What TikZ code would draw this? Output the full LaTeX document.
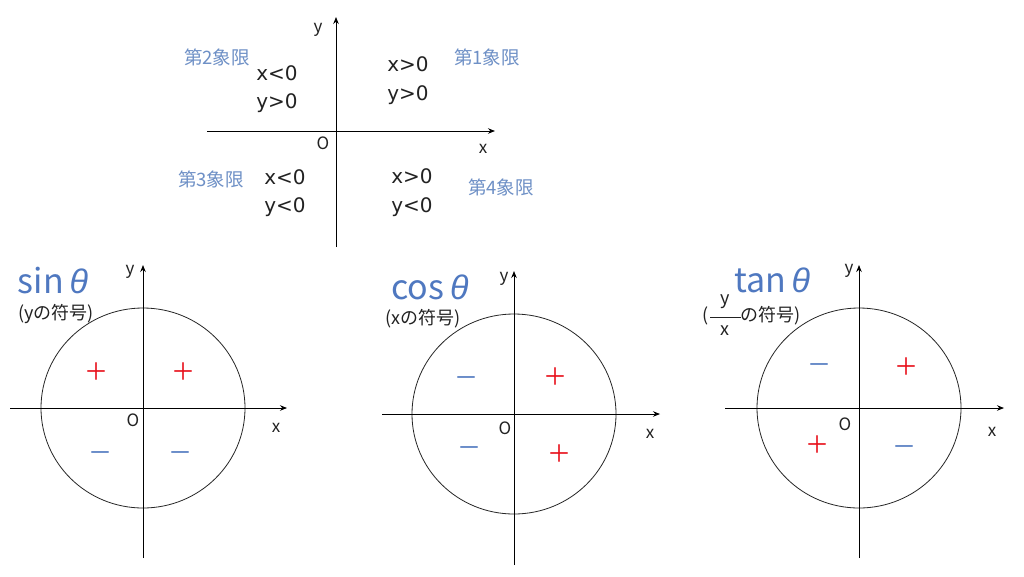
\documentclass[tikz,border=0pt]{standalone}
\usepackage{fontspec}
\setmainfont{Noto Sans CJK JP}
\newfontfamily\thetafont{Liberation Sans}
\newfontfamily\condfont{DejaVu Sans}
\usetikzlibrary{arrows.meta}
\definecolor{qblue}{HTML}{6E90C6}
\definecolor{tblue}{HTML}{4F78C0}
\definecolor{pred}{HTML}{E8101A}
\definecolor{txt}{HTML}{222222}
\tikzset{
 axis/.style={draw=black, line width=0.9pt, -{Stealth[length=7pt,width=5.5pt]}},
 ring/.style={draw=black!85, line width=0.8pt},
 lbl/.style={font=\fontsize{17}{17}\selectfont, text=txt, inner sep=0pt},
 cond/.style={font=\condfont\fontsize{20}{24}\selectfont, text=txt, inner sep=0pt},
 quad/.style={font=\fontsize{18.5}{18}\selectfont, text=qblue, inner sep=0pt},
 ttl/.style={font=\fontsize{34}{34}\selectfont, text=tblue, inner sep=0pt},
 sub/.style={font=\fontsize{18}{18}\selectfont, text=txt, inner sep=0pt},
 fracbar/.style={draw=txt, line width=0.8pt},
 plussign/.style={font=\fontsize{24}{24}\selectfont, text=pred, inner sep=0pt},
 minussign/.style={font=\fontsize{24}{24}\selectfont, text=tblue, inner sep=0pt},
}
\newcommand{\thsym}{{\thetafont\itshape θ}}
\begin{document}
\begin{tikzpicture}[x=1pt,y=-1pt]
\useasboundingbox[fill=white] (0,0) rectangle (1024,576);
% ---------- top quadrant diagram ----------
\coordinate (tyb) at (336,247);
\coordinate (tyt) at (336,17);
\coordinate (txl) at (207,131);
\coordinate (txr) at (495,131);
\draw[axis] (tyb) -- (tyt);
\draw[axis] (txl) -- (txr);
\node[lbl] (ty) at (318,30) {y};
\node[lbl] (tO) at (323,143) {O};
\node[lbl] (tx) at (483,149) {x};
\node[quad] (q2) at (217,57) {第2象限};
\node[quad] (q1) at (487,57) {第1象限};
\node[quad] (q3) at (211,179) {第3象限};
\node[quad] (q4) at (501,187) {第4象限};
\node[cond] (c2a) at (277,73) {x<0};
\node[cond] (c2b) at (277,103) {y>0};
\node[cond] (c1a) at (408,64) {x>0};
\node[cond] (c1b) at (408,95) {y>0};
\node[cond] (c3a) at (285,177) {x<0};
\node[cond] (c3b) at (285,207) {y<0};
\node[cond] (c4a) at (412,176) {x>0};
\node[cond] (c4b) at (412,207) {y<0};
% ---------- sin ----------
\coordinate (sc) at (143,408);
\coordinate (syb) at (143,558);
\coordinate (syt) at (143,265);
\coordinate (sxl) at (10,408);
\coordinate (sxr) at (287,408);
\draw[ring] (sc) ellipse [x radius=102, y radius=100];
\draw[axis] (syb) -- (syt);
\draw[axis] (sxl) -- (sxr);
\node[lbl] (sy) at (130,272) {y};
\node[lbl] (sO) at (133,420) {O};
\node[lbl] (sx) at (276,428) {x};
\node[ttl] (sttl) at (53,281) {sin\,\thsym};
\node[sub] (ssub) at (56,314) {(yの符号)};
\node[plussign] (sp1) at (96,372) {＋};
\node[plussign] (sp2) at (183,372) {＋};
\node[minussign] (sn1) at (100,457) {－};
\node[minussign] (sn2) at (180,457) {－};
% ---------- cos ----------
\coordinate (cc) at (514,414);
\coordinate (cyb) at (514,565);
\coordinate (cyt) at (514,271);
\coordinate (cxl) at (382,414);
\coordinate (cxr) at (660,414);
\draw[ring] (cc) ellipse [x radius=102, y radius=100];
\draw[axis] (cyb) -- (cyt);
\draw[axis] (cxl) -- (cxr);
\node[lbl] (cy) at (504,279) {y};
\node[lbl] (cO) at (505,428) {O};
\node[lbl] (cx) at (650,434) {x};
\node[ttl] (cttl) at (430,287) {cos\,\thsym};
\node[sub] (csub) at (423,319) {(xの符号)};
\node[minussign] (cn1) at (466,382) {－};
\node[plussign] (cp1) at (555,377) {＋};
\node[minussign] (cn2) at (469,452) {－};
\node[plussign] (cp2) at (559,454) {＋};
% ---------- tan ----------
\coordinate (nc) at (859,408);
\coordinate (nyb) at (859,558);
\coordinate (nyt) at (859,265);
\coordinate (nxl) at (725,408);
\coordinate (nxr) at (1004,408);
\draw[ring] (nc) ellipse [x radius=102, y radius=100];
\draw[axis] (nyb) -- (nyt);
\draw[axis] (nxl) -- (nxr);
\node[lbl] (ny) at (849,271) {y};
\node[lbl] (nO) at (845,424) {O};
\node[lbl] (nx) at (992,432) {x};
\node[ttl] (nttl) at (772,280) {tan\,\thsym};
\node[sub] (nlp) at (706,316) {(};
\node[sub] (nnum) at (725,302) {y};
\node[sub] (nden) at (725,331) {x};
\coordinate (nbl) at (710,317);
\coordinate (nbr) at (741,317);
\draw[fracbar] (nbl) -- (nbr);
\node[sub, anchor=west] (nrest) at (740,316) {の符号)};
\node[minussign] (nn1) at (819,369) {－};
\node[plussign] (np1) at (906,367) {＋};
\node[plussign] (np2) at (817,445) {＋};
\node[minussign] (nn2) at (904,451) {－};
\end{tikzpicture}
\end{document}
